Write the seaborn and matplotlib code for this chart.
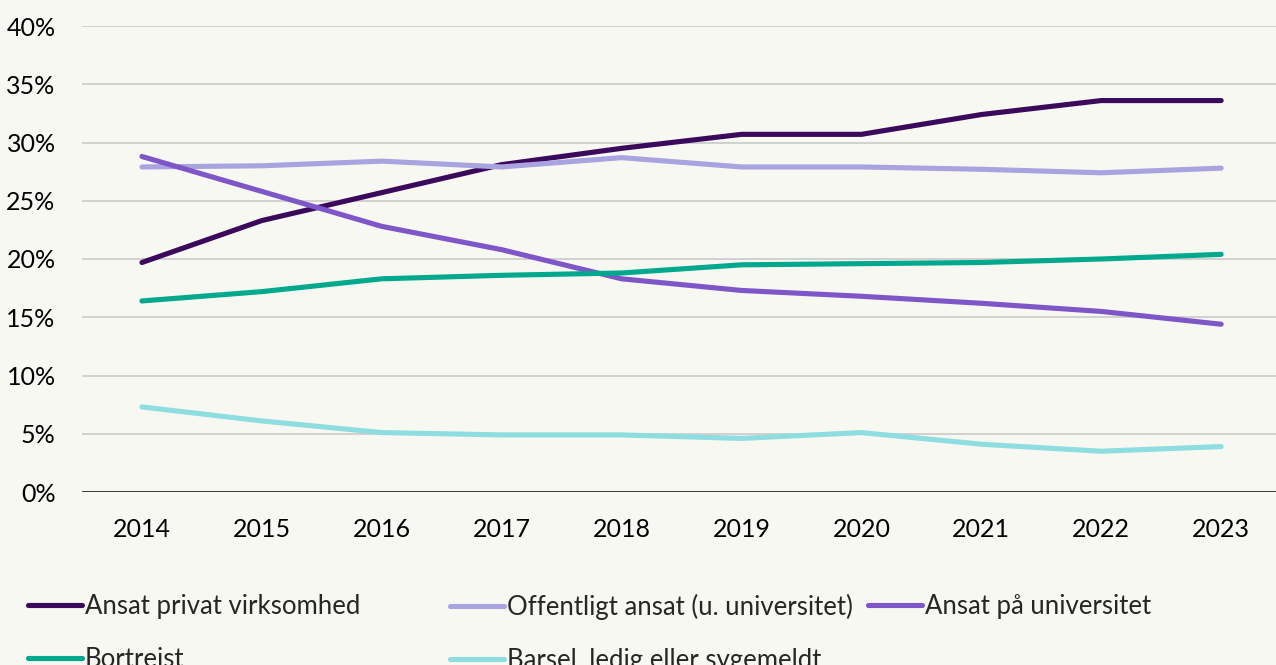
import pandas as pd
import numpy as np
import matplotlib
matplotlib.use("Agg")
import matplotlib.pyplot as plt
from matplotlib.lines import Line2D
from matplotlib.ticker import FuncFormatter
import seaborn as sns

# data (percent)
years = ["2014", "2015", "2016", "2017", "2018", "2019", "2020", "2021", "2022", "2023"]
privat = [19.7, 23.3, 25.7, 28.1, 29.5, 30.7, 30.7, 32.4, 33.6, 33.6]
offentligt = [27.9, 28.0, 28.4, 27.9, 28.7, 27.9, 27.9, 27.7, 27.4, 27.8]
universitet = [28.8, 25.8, 22.8, 20.8, 18.3, 17.3, 16.8, 16.2, 15.5, 14.4]
bortrejst = [16.4, 17.2, 18.3, 18.6, 18.8, 19.5, 19.6, 19.7, 20.0, 20.4]
barsel = [7.3, 6.1, 5.1, 4.9, 4.9, 4.6, 5.1, 4.1, 3.5, 3.9]

series_names = ["Ansat privat virksomhed", "Offentligt ansat (u. universitet)",
                "Ansat på universitet", "Bortrejst", "Barsel, ledig eller sygemeldt"]
series_values = [privat, offentligt, universitet, bortrejst, barsel]
colors = ["#3B0A5C", "#A9A3E0", "#7E56C8", "#00A98E", "#8EDDE0"]

# long table for seaborn
rows = []
for name, vals in zip(series_names, series_values):
    for i, v in enumerate(vals):
        rows.append({"pos": i, "year": years[i], "serie": name, "value": v})
df = pd.DataFrame(rows)

bg = "#F8F8F2"
sns.set_theme(style="white")
plt.rcParams["font.family"] = ["Lato", "DejaVu Sans"]

fig = plt.figure(figsize=(12.76, 6.65), dpi=100, facecolor=bg)
ax = fig.add_axes([82 / 1276, 1 - 492 / 665, 1 - 82 / 1276 + 0.004, (492 - 26) / 665])
ax.set_facecolor(bg)

sns.lineplot(data=df, x="pos", y="value", hue="serie", hue_order=series_names,
             palette=colors, linewidth=3.7, ax=ax, legend=False,
             solid_capstyle="round", zorder=3)

ax.set_xlim(-0.5, len(years) - 0.5)
ax.set_ylim(0, 40)
ax.set_yticks(np.arange(0, 41, 5))
ax.yaxis.set_major_formatter(FuncFormatter(lambda v, p: f"{int(v)}%"))
ax.set_xticks(range(len(years)))
ax.set_xticklabels(years)
ax.set_xlabel("")
ax.set_ylabel("")

# gridlines
for y in range(5, 41, 5):
    ax.axhline(y, color="#D0D0D0", linewidth=1.4, zorder=1)
ax.axhline(0, color="black", linewidth=1.8, zorder=2)

for s in ax.spines.values():
    s.set_visible(False)
ax.tick_params(axis="both", length=0, labelsize=18, colors="black")
ax.tick_params(axis="x", pad=19)
ax.tick_params(axis="y", pad=19)

# legend - three columns placed like the original
def make_handle(c):
    return Line2D([], [], color=c, linewidth=3.7, solid_capstyle="round")

columns = [[0, 3], [1, 4], [2]]
col_x = [28 / 1276, 450 / 1276, 868 / 1276]
for xs, idx in zip(col_x, columns):
    leg = fig.legend([make_handle(colors[i]) for i in idx],
                     [series_names[i] for i in idx],
                     loc="upper left", bbox_to_anchor=(xs, 1 - 594 / 665),
                     frameon=False, fontsize=18.5, handlelength=2.1,
                     handletextpad=0.1, labelspacing=1.08,
                     borderaxespad=0, borderpad=0)

fig.savefig("out.png", dpi=100, facecolor=bg)
